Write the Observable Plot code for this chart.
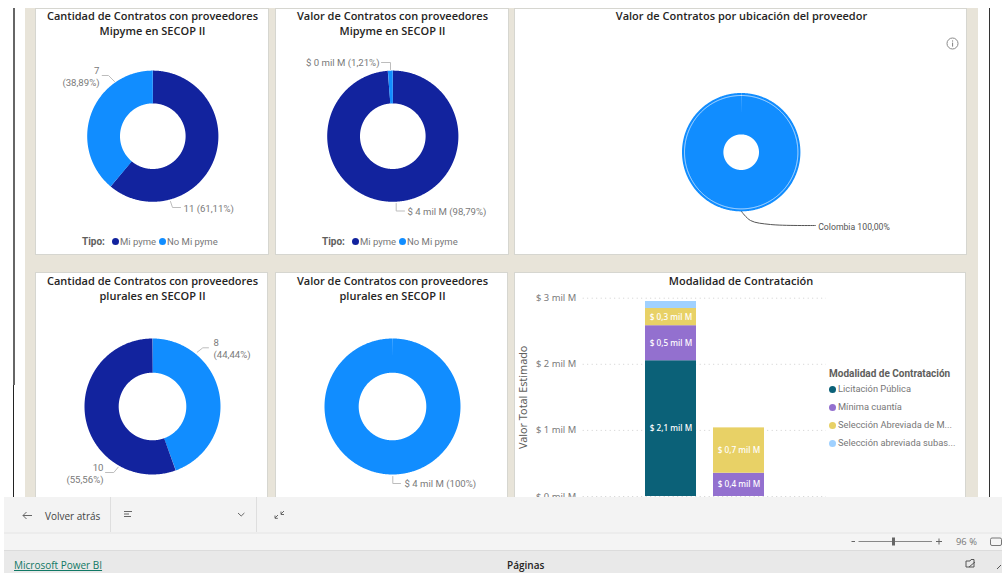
<!DOCTYPE html>
<html lang="es">
<head>
<meta charset="utf-8">
<script src="https://cdn.jsdelivr.net/npm/d3@7"></script>
<script src="https://cdn.jsdelivr.net/npm/@observablehq/plot@0.6"></script>
<style>
  html, body { margin: 0; padding: 0; background: #fff; }
  #stage { position: relative; width: 1002px; height: 573px; overflow: hidden; font-family: "Open Sans", sans-serif; }
  #stage > * { position: absolute; }
  .panel { background: #fff; box-sizing: border-box; border: 1px solid #d6d6d0; }
  .title { font-weight: 600; font-size: 11px; line-height: 15px; color: #252423; text-align: center; white-space: nowrap; }
  .legend { font-family: Roboto, sans-serif; font-size: 9.5px; color: #777; white-space: nowrap; display: flex; align-items: center; }
  .legend b { color: #605e5c; margin-right: 4px; font-size: 10px; }
  .dot { display: inline-block; width: 7px; height: 7px; border-radius: 50%; margin: 0 1px 0 3px; }
  .lg2 { font-family: Roboto, sans-serif; font-size: 9.3px; color: #777; white-space: nowrap; }
  .lg2 .dot { position: absolute; left: -9px; top: 3px; margin: 0; }
  svg { overflow: visible; }
  .ui { font-family: "Open Sans", sans-serif; font-size: 10px; color: #444; white-space: nowrap; }
</style>
</head>
<body>
<div id="stage"></div>
<script>
// ---- data ----
const tipoMipyme = ["Mi pyme", "No Mi pyme"];
const cantidadMipyme = [11, 7];
const valorMipyme = [98.79, 1.21];
const tipoPlural = ["No Mi pyme", "Mi pyme"];
const cantidadPlural = [8, 10];
const valorPluralTipo = ["No Mi pyme"];
const valorPlural = [100];
const paisProveedor = ["Colombia"];
const valorPais = [100];
const modalidades = ["Licitación Pública", "Mínima cuantía", "Selección Abreviada de M...", "Selección abreviada subas..."];
const barraA = [2.054, 0.53, 0.26, 0.106];
const barraB = [0, 0.352, 0.686, 0];
const etiquetasA = ["$ 2,1 mil M", "$ 0,5 mil M", "$ 0,3 mil M", ""];
const etiquetasB = ["", "$ 0,4 mil M", "$ 0,7 mil M", ""];
const yTicks = [0, 1, 2, 3];

// ---- colours ----
const coloresTipo = { domain: ["Mi pyme", "No Mi pyme", "Colombia"], range: ["#12239E", "#118DFF", "#118DFF"] };
const coloresMod = ["#0B6178", "#9370CF", "#E8D166", "#A0D1FF"];

// ---- helpers ----
const stage = document.getElementById("stage");
function box(cls, l, t, w, h, css = "") {
  const d = document.createElement("div");
  d.className = cls;
  d.style.cssText = `left:${l}px;top:${t}px;width:${w}px;height:${h}px;${css}`;
  stage.appendChild(d);
  return d;
}
function title(lines, cx, top) {
  const d = box("title", cx - 150, top, 300, 30);
  d.innerHTML = lines.join("<br>");
}
function sliceRows(cats, vals, r) {
  const total = d3.sum(vals);
  let acc = 0;
  const rows = [];
  cats.forEach((c, i) => {
    const a0 = acc / total * 2 * Math.PI;
    acc += vals[i];
    const a1 = acc / total * 2 * Math.PI;
    const n = Math.max(2, Math.ceil((a1 - a0) / 0.01));
    for (let k = 0; k <= n; k++) {
      const a = a0 + (a1 - a0) * k / n;
      rows.push({ tipo: c, x: r * Math.sin(a), y: -r * Math.cos(a) });
    }
  });
  return rows;
}
// one donut; notes = labels & leaders placed in pixels relative to the centre
function donut({ cats, vals, cx, cy, R, r, l, t, w, h, notes = [], ring = null }) {
  const marks = [
    Plot.line(sliceRows(cats, vals, (R + r) / 2), {
      x: "x", y: "y", stroke: "tipo", z: "tipo",
      strokeWidth: R - r, strokeLinecap: "butt", strokeLinejoin: "round"
    })
  ];
  if (ring) marks.push(Plot.line(sliceRows(["Colombia"], [1], ring), { x: "x", y: "y", stroke: "#cfe7ff", strokeWidth: 0.9 }));
  for (const n of notes) {
    marks.push(Plot.line(n.leader.map(([x, y]) => ({ x: x - cx, y: y - cy })), {
      x: "x", y: "y", stroke: n.leaderColor || "#bdbdbd", strokeWidth: 1, curve: n.curve || "linear"
    }));
    marks.push(Plot.text([n], {
      x: n.x - cx, y: n.y - cy, text: "t", textAnchor: n.anchor || "start",
      fill: n.fill || "#7a7a7a", fontSize: n.size || 9.6, fontFamily: "Roboto, sans-serif", lineHeight: 1.25
    }));
  }
  const svg = Plot.plot({
    width: w, height: h, margin: 0,
    style: { background: "transparent" },
    x: { domain: [l - cx, l + w - cx], range: [0, w], axis: null },
    y: { domain: [t - cy, t + h - cy], range: [0, h], axis: null },
    color: coloresTipo,
    marks
  });
  svg.style.cssText = `position:absolute;left:${l}px;top:${t}px;background:transparent;`;
  stage.appendChild(svg);
}
function legendTipo(left, top) {
  const d = box("legend", left, top, 180, 14);
  d.innerHTML = `<b>Tipo:</b>` + tipoMipyme.map(c =>
    `<span class="dot" style="background:${coloresTipo.range[coloresTipo.domain.indexOf(c)]}"></span>${c}`).join("");
}

// ---- background ----
box("", 0, 0, 1002, 8, "background:#fff");
box("", 25, 8, 953, 489, "background:#E8E4D9");
box("", 13, 8, 1.5, 377, "background:#666");
box("", 13, 385, 1, 112, "background:#222");
box("", 988.5, 8, 1, 489, "background:#333");

[[35, 8, 233.5, 246.5], [275, 8, 234, 246.5], [514, 8, 452.5, 246.5],
 [35, 271.5, 233, 240], [275, 271.5, 233, 240], [514, 271.5, 451.5, 240]].forEach(p => box("panel", ...p));

// ---- titles ----
title(["Cantidad de Contratos con proveedores", "Mipyme en SECOP II"], 152.5, 8);
title(["Valor de Contratos con proveedores", "Mipyme en SECOP II"], 392.5, 8);
title(["Valor de Contratos por ubicación del proveedor"], 741.5, 8);
title(["Cantidad de Contratos con proveedores", "plurales en SECOP II"], 152.5, 272.5);
title(["Valor de Contratos con proveedores", "plurales en SECOP II"], 392.5, 272.5);
title(["Modalidad de Contratación"], 741, 272.5);

// ---- donuts ----
donut({ cats: tipoMipyme, vals: cantidadMipyme, cx: 152.3, cy: 135.7, R: 65.6, r: 32.8, l: 36, t: 8, w: 232, h: 246, notes: [
  { t: "7\n(38,89%)", x: 99, y: 76, anchor: "end", leader: [[101.7, 75], [108, 75], [114, 81]] },
  { t: "11 (61,11%)", x: 183, y: 208, leader: [[170, 201], [172, 207], [180, 207]] }
]});
donut({ cats: tipoMipyme, vals: valorMipyme, cx: 392.3, cy: 135.7, R: 65.6, r: 32.8, l: 276, t: 8, w: 232, h: 246, notes: [
  { t: "$ 0 mil M (1,21%)", x: 379, y: 62, anchor: "end", leader: [[381, 62], [390, 62], [390, 69]] },
  { t: "$ 4 mil M (98,79%)", x: 407, y: 211, leader: [[395.7, 203], [395.7, 210.5], [404, 210.5]] }
]});
donut({ cats: tipoPlural, vals: cantidadPlural, cx: 152, cy: 406, R: 68, r: 33.8, l: 36, t: 272, w: 232, h: 226, notes: [
  { t: "8\n(44,44%)", x: 213, y: 348, leader: [[196.7, 351.7], [202.3, 347.3], [208, 347.3]] },
  { t: "10\n(55,56%)", x: 103, y: 473, anchor: "end", leader: [[105, 472], [113.3, 472], [117.7, 466.7]] }
]});
donut({ cats: valorPluralTipo, vals: valorPlural, cx: 392, cy: 406, R: 68, r: 33.8, l: 276, t: 272, w: 232, h: 226, notes: [
  { t: "$ 4 mil M (100%)", x: 404, y: 483, leader: [[392.3, 476], [392.3, 483], [400, 483]] }
]});
donut({ cats: paisProveedor, vals: valorPais, cx: 740.7, cy: 151.7, R: 59.2, r: 17.8, ring: 56.7, l: 515, t: 8, w: 451, h: 246, notes: [
  { t: "Colombia 100,00%", x: 817.7, y: 226, size: 8.7, fill: "#555", leaderColor: "#555", curve: "catmull-rom",
    leader: [[741, 211], [750, 220], [770, 224], [815, 225]] }
]});

legendTipo(82, 234);
legendTipo(322, 234);

// ---- stacked bars ----
const filas = [
  ...modalidades.map((m, i) => ({ col: "A", modalidad: m, valor: barraA[i], etiqueta: etiquetasA[i] })),
  ...modalidades.map((m, i) => ({ col: "B", modalidad: m, valor: barraB[i], etiqueta: etiquetasB[i] }))
];
const barSvg = Plot.plot({
  width: 450, height: 240,
  marginLeft: 67.7, marginRight: 139, marginTop: 25.7, marginBottom: 16,
  style: { background: "transparent", fontFamily: "Roboto, sans-serif" },
  x: { domain: ["A", "B"], range: [113, 266.4], padding: 0.245, axis: null },
  y: { domain: [0, 3], axis: null },
  color: { domain: modalidades, range: coloresMod },
  marks: [
    Plot.ruleY(yTicks, { stroke: "#cfcfcf", strokeDasharray: "1,3.5" }),
    Plot.axisY(yTicks, { tickFormat: d => `$ ${d} mil M`, tickSize: 0, tickPadding: 7, fontSize: 9.4, fill: "#7a7a7a", label: null }),
    Plot.axisY([], { label: "Valor Total Estimado", labelAnchor: "center", labelArrow: "none", labelOffset: 64, fontSize: 10.8, fill: "#605e5c", tickSize: 0 }),
    Plot.barY(filas, Plot.stackY({ x: "col", y: "valor", fill: "modalidad" })),
    Plot.text(filas.filter(d => d.etiqueta), Plot.stackY({ x: "col", y: "valor", text: "etiqueta", fill: "#fff", fontSize: 8.2, fontWeight: 500 }))
  ]
});
barSvg.style.cssText = "position:absolute;left:515px;top:272px;background:transparent;";
stage.appendChild(barSvg);

// legend of the bars
const lgT = box("lg2", 829, 367.5, 130, 14, "font-weight:700;color:#605e5c;font-size:10px");
lgT.textContent = "Modalidad de Contratación";
[383, 400.8, 419, 437].forEach((top, i) => {
  const d = box("lg2", 838, top, 125, 14);
  d.innerHTML = `<span class="dot" style="background:${coloresMod[i]}"></span>${modalidades[i]}`;
});

// info icon
const info = box("", 946, 33, 13, 13);
info.innerHTML = `<svg width="13" height="13" viewBox="0 0 13 13"><circle cx="6.5" cy="6.5" r="5.5" fill="none" stroke="#8a8a8a"/><rect x="6" y="5.6" width="1.1" height="4" fill="#8a8a8a"/><rect x="6" y="3.4" width="1.1" height="1.2" fill="#8a8a8a"/></svg>`;

// ---- Power BI chrome ----
box("", 0, 497, 4, 76, "background:#fff");
box("", 4, 497, 998, 35, "background:#f3f3f3");
box("", 4, 532, 998, 2, "background:#ececec");
box("", 4, 534, 998, 16, "background:#f4f4f4");
box("", 4, 549.5, 998, 1.5, "background:#dcdcdc");
box("", 4, 551, 998, 22, "background:#e9e9e9");
box("", 110, 497, 1, 35, "background:#dedede");
box("", 255.5, 497, 1, 35, "background:#dedede");

box("ui", 45, 508.5, 70, 15).textContent = "Volver atrás";
const chrome = box("", 0, 497, 1002, 76);
chrome.innerHTML = `<svg width="1002" height="76" viewBox="0 497 1002 76" fill="none" stroke="#666" stroke-width="1">
  <path d="M32 515.5H23M26.5 512l-3.5 3.5 3.5 3.5"/>
  <path d="M124 511.5h8M124 514h5M124 516.5h7"/>
  <path d="M238 513l3.2 3 3.2-3"/>
  <path d="M275 518l3-3M275 515.5v2.8h2.8M284 511l-3 3M281 511.5v3h3"/>
  <path d="M858.5 541.5H932" stroke="#888"/>
  <rect x="892" y="537.5" width="3" height="8" fill="#666" stroke="none"/>
  <path d="M851.5 541.5h3.5M936 541.5h6M939 538.5v6" stroke="#666"/>
  <rect x="990.5" y="538" width="11" height="7.5" rx="1.5" stroke="#777"/>
  <path d="M966 561h4l1-1.5h3v7.5h-8zM969 567l6-5" stroke="#555"/>
  <path d="M997 569l4-4" stroke="#555"/>
</svg>`;
box("ui", 956, 534.5, 24, 14, "color:#777;font-size:9.4px").textContent = "96 %";
box("ui", 14, 558, 100, 15, "color:#117865;text-decoration:underline").textContent = "Microsoft Power BI";
box("ui", 507, 558, 50, 15, "font-weight:600;color:#252423").textContent = "Páginas";
</script>
</body>
</html>
